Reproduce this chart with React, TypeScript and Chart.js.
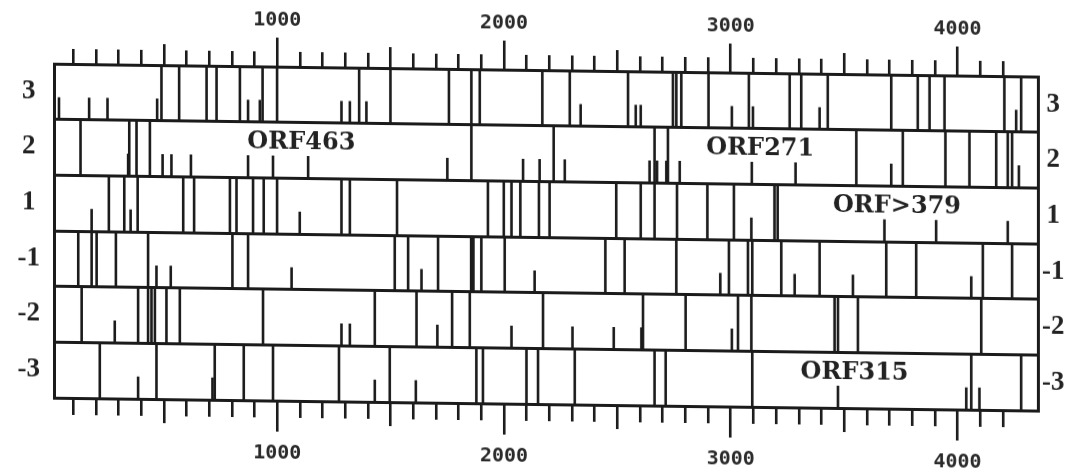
import React, { useEffect, useRef } from 'react';
import { Chart, registerables } from 'chart.js';

Chart.register(...registerables);

// Reading frames, top to bottom
const frames = ['3', '2', '1', '-1', '-2', '-3'];

// Stop codons (full-height bars), position in bp
const stopsF3 = [489, 567, 688, 732, 835, 935, 999, 1361, 1499, 1757, 1856, 1893, 2169, 2290, 2547, 2745, 2760, 2782, 2902, 3080, 3260, 3311, 3428, 3708, 3825, 3877, 3943, 4207, 4281];
const stopsF2 = [132, 347, 379, 438, 1856, 2219, 2664, 2723, 3554, 3759, 3947, 4053, 4171, 4222, 4241];
const stopsF1 = [257, 325, 384, 585, 633, 791, 820, 893, 940, 999, 1283, 1320, 1528, 1929, 1999, 2033, 2072, 2154, 2201, 2495, 2603, 2664, 2763, 2897, 3014, 3193, 3207];
const stopsM1 = [122, 181, 203, 288, 430, 802, 871, 1518, 1577, 1709, 1855, 1865, 1900, 2003, 2447, 2532, 2760, 2992, 3076, 3095, 3223, 3392, 3686, 3818, 4112, 4241];
const stopsM2 = [137, 386, 430, 445, 460, 511, 570, 937, 1430, 1614, 1771, 1849, 2172, 2613, 2801, 3032, 3091, 3458, 3473, 3561, 4105];
const stopsM3 = [217, 467, 724, 852, 981, 1272, 1496, 1878, 1907, 2099, 2150, 2312, 2664, 2713, 3095, 4061, 4281];

// Start codons (short bars), position in bp
const startsF3 = [37, 170, 251, 470, 871, 923, 1283, 1320, 1393, 2338, 2581, 2603, 3005, 3098, 3392, 4259];
const startsF2 = [342, 494, 533, 619, 871, 981, 1136, 1750, 2084, 2157, 2268, 2642, 2675, 2716, 2775, 3093, 3286, 3708, 4271];
const startsF1 = [181, 353, 1099, 3091, 3678, 3906, 4222];
const startsM1 = [467, 530, 1063, 1636, 2135, 2954, 3282, 3539, 4061];
const startsM2 = [283, 1283, 1320, 1706, 2033, 2302, 2484, 2606, 3005];
const startsM3 = [386, 714, 1430, 1611, 3473, 4039, 4097];

const stopCodons = [stopsF3, stopsF2, stopsF1, stopsM1, stopsM2, stopsM3];
const startCodons = [startsF3, startsF2, startsF1, startsM1, startsM2, startsM3];

// Axis
const axisLabels = [1000, 2000, 3000, 4000];
const xMin = 15;
const xMax = 4355;
const lastTick = 4200;

// ORF annotations
const orfNames = ['ORF463', 'ORF271', 'ORF>379', 'ORF315'];
const orfFrames = ['2', '2', '1', '-3'];
const orfCenters = [1106, 3130, 3733, 3546];

const INK = '#1b1b1b';
const START_HEIGHT = 0.4;
const LABEL_LIFT = 0.63;

function rowBase(frame: string) {
  return frames.length - 1 - frames.indexOf(frame);
}

function segments(positions: number[][], height: number) {
  const pts: { x: number; y: number | null }[] = [];
  positions.forEach((list, i) => {
    const base = frames.length - 1 - i;
    list.forEach((p) => {
      pts.push({ x: p, y: base });
      pts.push({ x: p, y: base + height });
      pts.push({ x: p, y: null });
    });
  });
  return pts;
}

const tickFont = { family: '"DejaVu Sans Mono", monospace', size: 20, weight: 'bold' as const };
const frameFont = { family: '"Liberation Serif", serif', size: 27, weight: 'bold' as const };

// visible tick length by tick value
function tickLen(v: number, major: number, mid: number, minor: number) {
  if (v % 1000 === 0) return major;
  if (v % 500 === 0) return mid;
  return minor;
}

function labelAxis(position: 'top' | 'bottom', major: number, mid: number, minor: number, pad: number, size: number) {
  return {
    type: 'linear' as const,
    position,
    min: xMin,
    max: xMax,
    grid: {
      display: true,
      drawOnChartArea: false,
      tickLength: major,
      lineWidth: 2.6,
      color: INK,
      tickColor: INK,
      tickBorderDash: (c: any) => {
        const v = c.tick ? c.tick.value : 0;
        const len = tickLen(v, major, mid, minor);
        if (len >= major) return [];
        // top axis ticks are stroked from the outer end, bottom ones from the frame
        return position === 'top' ? [0, major - len, len, 200] : [len, 200];
      },
    },
    border: { display: true, width: 3, color: INK },
    ticks: {
      stepSize: 100,
      includeBounds: false,
      maxTicksLimit: 200,
      autoSkip: false,
      maxRotation: 0,
      padding: pad,
      color: '#2a2a2a',
      font: tickFont,
      callback: (v: any) => (axisLabels.includes(Number(v)) ? String(v) : ''),
    },
    afterBuildTicks: (axis: any) => {
      axis.ticks = axis.ticks.filter((t: any) => t.value <= lastTick);
    },
    afterFit: (axis: any) => {
      axis.height = size;
    },
  };
}

function frameAxis(position: 'left' | 'right', pad: number, grid: boolean, size: number) {
  return {
    type: 'linear' as const,
    position,
    min: 0,
    max: frames.length,
    grid: {
      display: true,
      drawOnChartArea: grid,
      drawTicks: false,
      lineWidth: 3,
      color: (c: any) => (c.tick && Number.isInteger(c.tick.value) ? INK : 'rgba(0,0,0,0)'),
    },
    border: { display: true, width: 3, color: INK },
    ticks: {
      padding: pad,
      autoSkip: false,
      color: '#222',
      font: frameFont,
      crossAlign: 'center' as const,
      callback: (v: any) => {
        const n = Number(v);
        if (Number.isInteger(n)) return '';
        return frames[frames.length - 1 - Math.floor(n)];
      },
    },
    afterBuildTicks: (axis: any) => {
      const t: { value: number }[] = [];
      frames.forEach((_, i) => {
        t.push({ value: i });
        t.push({ value: i + 0.5 });
      });
      t.push({ value: frames.length });
      axis.ticks = t;
    },
    afterFit: (axis: any) => {
      axis.width = size;
    },
  };
}

const orfLabelPlugin = {
  id: 'orfLabels',
  afterDatasetsDraw(chart: any) {
    const { ctx } = chart;
    const xs = chart.scales.x;
    const ys = chart.scales.y;
    ctx.save();
    ctx.fillStyle = '#222';
    ctx.font = 'bold 24px "DejaVu Serif", serif';
    ctx.textAlign = 'center';
    ctx.textBaseline = 'middle';
    orfNames.forEach((name, i) => {
      const x = xs.getPixelForValue(orfCenters[i]);
      const y = ys.getPixelForValue(rowBase(orfFrames[i]) + LABEL_LIFT);
      ctx.fillText(name, x, y);
    });
    ctx.restore();
  },
};

export default function App() {
  const ref = useRef<HTMLCanvasElement | null>(null);

  useEffect(() => {
    if (!ref.current) return;
    const chart = new Chart(ref.current, {
      type: 'line',
      data: {
        datasets: [
          {
            label: 'stop',
            data: segments(stopCodons, 1) as any,
            borderColor: INK,
            borderWidth: 2.6,
            borderCapStyle: 'butt',
            pointRadius: 0,
            spanGaps: false,
            xAxisID: 'x',
            yAxisID: 'y',
          },
          {
            label: 'start',
            data: segments(startCodons, START_HEIGHT) as any,
            borderColor: INK,
            borderWidth: 2.6,
            borderCapStyle: 'butt',
            pointRadius: 0,
            spanGaps: false,
            xAxisID: 'x',
            yAxisID: 'y',
          },
        ],
      },
      options: {
        animation: false,
        responsive: true,
        maintainAspectRatio: false,
        parsing: { xAxisKey: 'x', yAxisKey: 'y' } as any,
        layout: { padding: 0 },
        plugins: { legend: { display: false }, tooltip: { enabled: false }, title: { display: false } },
        scales: {
          x: labelAxis('bottom', 31, 22, 15, 10, 77),
          xt: labelAxis('top', 29, 21, 15, 5, 63),
          y: frameAxis('left', 14, true, 54),
          yr: frameAxis('right', 4, false, 45),
        } as any,
      },
      plugins: [orfLabelPlugin],
    });
    return () => chart.destroy();
  }, []);

  return (
    <div
      style={{
        position: 'absolute',
        left: 0,
        top: 0,
        width: 1083,
        height: 474,
        background: '#fff',
        transform: 'skewY(0.75deg)',
        transformOrigin: '0 0',
      }}
    >
      <canvas ref={ref} />
    </div>
  );
}
